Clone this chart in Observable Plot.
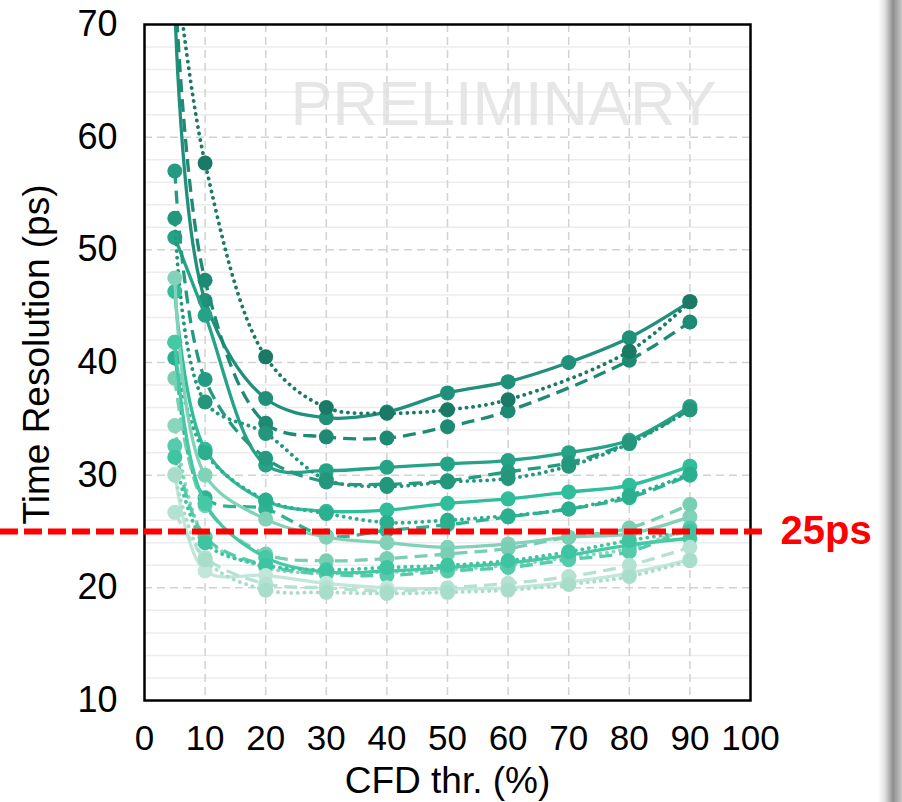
<!DOCTYPE html>
<html><head><meta charset="utf-8">
<script src="https://cdn.jsdelivr.net/npm/d3@7"></script>
<script src="https://cdn.jsdelivr.net/npm/@observablehq/plot@0.6"></script>
<style>
html,body{margin:0;padding:0;background:#fff;}
body{width:902px;height:802px;overflow:hidden;position:relative;}
#edge{position:absolute;left:878px;top:0;width:24px;height:802px;z-index:2;
 background:linear-gradient(to right,#ffffff 0%,#dedede 30%,#8f8f8f 62%,#a9a9a9 80%,#c9c9c9 100%);}
#chart{position:absolute;left:0;top:0;}
</style></head>
<body><div id="edge"></div><div id="chart"></div>
<script>
// CFD thresholds (%)
const thresholds = [5, 10, 20, 30, 40, 50, 60, 70, 80, 90];
// time resolution (ps) per series; null = no point
const aSolid  = [72, 45.5, 36.8, 35.1, 35.6, 37.3, 38.3, 40.0, 42.2, 45.4];
const aDashed = [74, 47.3, 34.6, 33.4, 33.3, 34.3, 35.7, null, 40.2, 43.6];
const aDotted = [76, 57.7, 40.5, 36.0, 35.5, 35.8, 36.7, null, 41.0, 45.4];
const bSolid  = [51.1, 44.2, 30.9, 30.4, 30.7, 31.0, 31.3, 32.0, 33.1, 36.1];
const bDashed = [57.0, 38.5, 31.5, 29.4, 29.2, 29.5, 30.3, 31.1, 32.9, 35.8];
const bDotted = [52.8, 36.5, 33.7, 29.6, 29.0, 29.4, 29.7, 30.8, 32.8, 35.8];
const cSolid  = [46.3, 32.3, 27.7, 26.8, 26.9, 27.5, 27.9, 28.5, 29.1, 30.8];
const cDashed = [41.8, 28.0, 27.0, 24.6, 25.1, 25.6, 26.3, 27.0, 28.0, 30.0];
const cDotted = [40.4, 32.0, 27.8, 26.6, 25.8, 26.0, 26.4, 27.0, 28.2, 30.1];
const dSolid  = [47.5, 30.0, 26.1, 24.5, 24.0, 23.6, 23.9, 24.5, 24.8, 26.3];
const dDashed = [38.6, 27.3, 23.0, 22.4, 22.6, 23.0, 23.5, 24.5, 25.3, 27.4];
const dDotted = [34.4, 24.5, 21.8, 21.3, 21.4, 21.6, 22.0, 22.7, 23.5, 25.3];
const eSolid  = [41.8, 27.5, 22.7, 21.4, 21.5, 21.8, 22.2, 22.9, 23.8, 24.4];
const eDashed = [32.6, 24.5, 22.0, 21.2, 21.1, 21.5, 21.8, 22.5, 23.2, 25.3];
const eDotted = [31.6, 24.0, 22.0, 21.6, 21.8, 22.0, 22.4, 23.2, 24.2, 25.0];
const fSolid  = [30.1, 21.5, 21.1, 20.4, 20.0, 19.9, 20.0, 20.5, 21.3, 22.5];
const fDashed = [26.7, 22.7, 20.35, 20.0, 19.7, 20.0, 20.4, 21.0, 22.0, 23.6];
const fDotted = [30.0, 22.5, 19.8, 19.6, 19.5, 19.6, 19.8, 20.3, 21.0, 22.4];

const xTicks = [0, 10, 20, 30, 40, 50, 60, 70, 80, 90, 100];
const yTicks = [10, 20, 30, 40, 50, 60, 70];
const threshold = 25;
const thresholdLabel = "25ps";

// styling per series (kept separate from values)
const series = [
  {name: "A solid",  values: aSolid,  color: "#20907a", style: "solid"},
  {name: "A dashed", values: aDashed, color: "#1f8a73", style: "dashed"},
  {name: "A dotted", values: aDotted, color: "#1a7a65", style: "dotted"},
  {name: "B solid",  values: bSolid,  color: "#25a386", style: "solid"},
  {name: "B dashed", values: bDashed, color: "#249b80", style: "dashed"},
  {name: "B dotted", values: bDotted, color: "#23967c", style: "dotted"},
  {name: "C solid",  values: cSolid,  color: "#2fbd9a", style: "solid"},
  {name: "C dashed", values: cDashed, color: "#2db593", style: "dashed"},
  {name: "C dotted", values: cDotted, color: "#2bb08f", style: "dotted"},
  {name: "D solid",  values: dSolid,  color: "#82d2b9", style: "solid"},
  {name: "D dashed", values: dDashed, color: "#78cfb4", style: "dashed"},
  {name: "D dotted", values: dDotted, color: "#8ad5bd", style: "dotted"},
  {name: "E solid",  values: eSolid,  color: "#44c8a5", style: "solid"},
  {name: "E dashed", values: eDashed, color: "#55cbab", style: "dashed"},
  {name: "E dotted", values: eDotted, color: "#3fc4a1", style: "dotted"},
  {name: "F solid",  values: fSolid,  color: "#c2e7da", style: "solid"},
  {name: "F dashed", values: fDashed, color: "#b4e2d2", style: "dashed"},
  {name: "F dotted", values: fDotted, color: "#a8ddca", style: "dotted"}
];

const rows = [];
for (const s of series) {
  s.values.forEach((v, i) => { if (v != null) rows.push({series: s.name, cfd: thresholds[i], res: v}); });
}

const dashFor = {solid: null, dashed: "13 7", dotted: "0.1 6.5"};
const capFor = {solid: "round", dashed: "butt", dotted: "round"};

const seriesMarks = [];
for (const s of series) {
  const data = rows.filter(d => d.series === s.name);
  seriesMarks.push(Plot.line(data, {
    x: "cfd", y: "res", stroke: s.color, strokeWidth: s.style === "dotted" ? 3.8 : 3.3,
    strokeDasharray: dashFor[s.style], strokeLinecap: capFor[s.style],
    curve: "catmull-rom", clip: true
  }));
  seriesMarks.push(Plot.dot(data, {x: "cfd", y: "res", r: 7.5, fill: s.color, stroke: "none", clip: true}));
}

const gridX = xTicks.filter(t => t > 0 && t < 100);
const majorY = yTicks.filter(t => t > 10 && t < 70);
const minorY = d3.range(12, 70, 2).filter(t => t % 10 !== 0);

const chart = Plot.plot({
  width: 902, height: 802,
  marginLeft: 144, marginRight: 152, marginTop: 24, marginBottom: 102,
  style: {fontFamily: "'Liberation Sans', Arial, sans-serif", background: "transparent", color: "#000"},
  x: {domain: [0, 100]},
  y: {domain: [10, 70]},
  marks: [
    Plot.ruleY(minorY, {stroke: "#ececec", strokeWidth: 1.5}),
    Plot.ruleY(majorY, {stroke: "#d2d2d2", strokeWidth: 1.5, strokeDasharray: "8 5"}),
    Plot.ruleX(gridX, {stroke: "#d2d2d2", strokeWidth: 1.5, strokeDasharray: "8 5"}),
    Plot.text(["PRELIMINARY"], {text: d => d, frameAnchor: "top", lineAnchor: "middle", textAnchor: "middle", dx: 56, dy: 80, fontSize: 63, fill: "#e0e0e0", fillOpacity: 0.8}),
    ...seriesMarks,
    Plot.frame({stroke: "#000", strokeWidth: 2.5}),
    Plot.ruleY([threshold], {stroke: "#ff0000", strokeWidth: 6, strokeDasharray: "18 6", insetLeft: -144, insetRight: -12}),
    Plot.text([thresholdLabel], {text: d => d, y: () => threshold, frameAnchor: "right", dx: 30, textAnchor: "start", lineAnchor: "middle", fill: "#ff0000", fontWeight: "bold", fontSize: 40}),
    Plot.axisX(xTicks, {tickSize: 0, tickPadding: 25, fontSize: 35, label: null, tickFormat: d => String(d)}),
    Plot.axisY(yTicks, {tickSize: 0, tickPadding: 27, fontSize: 36, label: null}),
    Plot.text(["CFD thr. (%)"], {text: d => d, frameAnchor: "bottom", lineAnchor: "middle", textAnchor: "middle", dy: 81, fontSize: 37}),
    Plot.text(["Time Resolution (ps)"], {text: d => d, frameAnchor: "left", textAnchor: "middle", lineAnchor: "middle", dx: -107, dy: -8, rotate: -90, fontSize: 37})
  ]
});
document.getElementById("chart").appendChild(chart);
</script></body></html>
